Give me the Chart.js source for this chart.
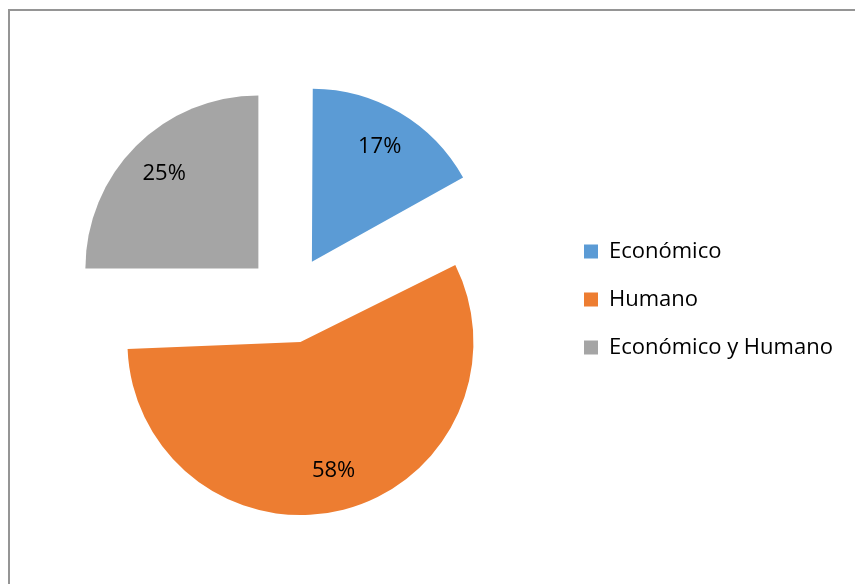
<!DOCTYPE html>
<html>
<head>
<meta charset="utf-8">
<script src="https://cdn.jsdelivr.net/npm/chart.js@4.4.1/dist/chart.umd.min.js"></script>
<style>
  html, body { margin: 0; padding: 0; background: #fff; }
  #wrap { position: relative; width: 855px; height: 584px; overflow: hidden; }
  #frame { position: absolute; left: 8px; top: 9px; width: 900px; height: 700px; border: 2px solid #959595; box-sizing: border-box; }
  #chart { position: absolute; left: 0; top: 0; }
</style>
</head>
<body>
<div id="wrap">
  <div id="frame"></div>
  <canvas id="chart" width="900" height="584"></canvas>
</div>
<script>
const categories = ['Económico', 'Humano', 'Económico y Humano'];
const percentages = [17, 58, 25];
const colors = ['#5B9BD5', '#ED7D31', '#A5A5A5'];

const FONT = '"Open Sans", "Noto Sans", sans-serif';
const legendSize = 22;
const legendPad = 26;
const legendBox = 14;
const explode = 44;   // how far each slice is pulled out, in px

// Chart.js grows wide slices by their offset when exploding them;
// keep every slice at the same radius and only move it outwards
const baseArcDraw = Chart.ArcElement.prototype.draw;
Chart.ArcElement.prototype.draw = function (ctx) {
  const shift = (this.options.offset || 0) / 4;
  const fix = 1 - Math.sin(Math.min(Math.PI, this.circumference || 0));
  const r = this.outerRadius;
  this.outerRadius = r - shift * fix;
  baseArcDraw.call(this, ctx);
  this.outerRadius = r;
};

// legend width the way Chart.js fits a right-hand legend, so the pie lands where we want it
const measure = document.createElement('canvas').getContext('2d');
measure.font = legendSize + 'px ' + FONT;
const widest = Math.max(...categories.map(c => measure.measureText(c).width));
const legendWidth = legendPad + legendBox + legendSize / 2 + widest + 10;
const areaRight = 558;
const canvasWidth = 900;

// percentage labels inside each slice
const sliceLabels = {
  id: 'sliceLabels',
  afterDatasetsDraw(chart) {
    const ctx = chart.ctx;
    const meta = chart.getDatasetMeta(0);
    ctx.save();
    ctx.font = '22px ' + FONT;
    ctx.fillStyle = '#000';
    ctx.textAlign = 'center';
    ctx.textBaseline = 'middle';
    meta.data.forEach((arc, i) => {
      const p = arc.getProps(['x', 'y', 'startAngle', 'endAngle', 'outerRadius'], true);
      const mid = (p.startAngle + p.endAngle) / 2;
      const r = explode + p.outerRadius * 0.77;
      ctx.fillText(percentages[i] + '%', p.x + Math.cos(mid) * r, p.y + Math.sin(mid) * r);
    });
    ctx.restore();
  }
};

new Chart(document.getElementById('chart'), {
  type: 'pie',
  data: {
    labels: categories,
    datasets: [{
      data: percentages,
      backgroundColor: colors,
      borderWidth: 0,
      offset: explode * 4,   // arcs translate by offset / 4
      hoverOffset: 0
    }]
  },
  options: {
    responsive: false,
    animation: false,
    events: [],
    layout: {
      padding: {
        left: 21,
        top: 38.5,
        bottom: 23.5,
        right: canvasWidth - areaRight - legendWidth
      }
    },
    plugins: {
      tooltip: { enabled: false },
      legend: {
        position: 'right',
        align: 'center',
        labels: {
          boxWidth: legendBox,
          boxHeight: legendBox,
          padding: legendPad,
          color: '#000',
          font: { family: FONT, size: legendSize }
        }
      }
    }
  },
  plugins: [sliceLabels]
});
</script>
</body>
</html>
